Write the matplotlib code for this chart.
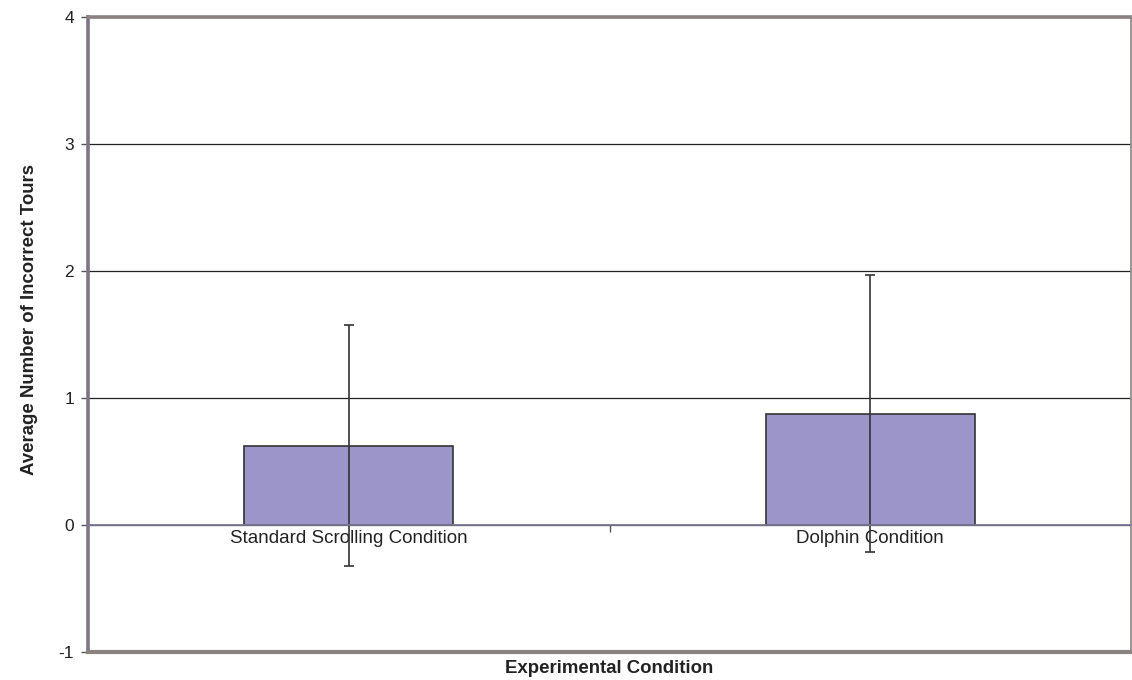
import matplotlib.pyplot as plt
from matplotlib.ticker import FixedLocator

# values
conditions = ["Standard Scrolling Condition", "Dolphin Condition"]
mean_incorrect = [0.625, 0.875]
err_incorrect = [0.95, 1.09]
y_ticks = [-1, 0, 1, 2, 3, 4]

plt.rcParams['font.family'] = ['Liberation Sans', 'DejaVu Sans']
plt.rcParams['axes.unicode_minus'] = False

frame_col = "#8c8282"
fig = plt.figure(figsize=(11.32, 6.8), dpi=100)
ax = fig.add_axes([88 / 1132, 28 / 680, 1043 / 1132, 635 / 680])

x = list(range(len(conditions)))
ax.bar(x, mean_incorrect, width=0.4, color="#9b95c9", edgecolor="#333333",
       linewidth=1.2, zorder=3)
ax.errorbar(x, mean_incorrect, yerr=err_incorrect, fmt="none", ecolor="#333333",
            elinewidth=1.2, capsize=3.5, capthick=1.2, zorder=4)

ax.set_xlim(-0.5, len(conditions) - 0.5)
ax.set_ylim(y_ticks[0], y_ticks[-1])
ax.set_yticks(y_ticks)
ax.yaxis.grid(True, color="#222222", linewidth=0.9, zorder=0)

# category axis crosses at zero
ax.spines['bottom'].set_position(('data', 0))
ax.spines['bottom'].set_color("#7a7894")
ax.spines['bottom'].set_linewidth(1.3)
ax.spines['bottom'].set_zorder(5)
ax.set_xticks(x)
ax.set_xticklabels(conditions, fontsize=13.5, color="#222222")
ax.tick_params(axis='x', which='major', length=0, pad=3.5)
ax.xaxis.set_minor_locator(FixedLocator([0.5]))
ax.tick_params(axis='x', which='minor', length=5, width=1, color="#555555")

# plot area border
ax.axhline(y_ticks[0], color=frame_col, linewidth=3, clip_on=False, zorder=6)
for side in ['left', 'top']:
    ax.spines[side].set_color(frame_col)
    ax.spines[side].set_linewidth(2.6)
ax.spines['left'].set_color("#7d7488")
ax.spines['right'].set_color(frame_col)
ax.spines['right'].set_linewidth(1.2)

ax.tick_params(axis='y', length=5, width=1, color="#555555", labelsize=12.5,
               labelcolor="#222222", pad=5)

ax.set_ylabel("Average Number of Incorrect Tours", fontsize=13.4, fontweight='bold',
              color="#222222")
ax.yaxis.set_label_coords(-0.048, 0.523)
ax.set_xlabel("Experimental Condition", fontsize=13.4, fontweight='bold', color="#222222")
ax.xaxis.set_label_coords(0.5, -0.013)

fig.savefig("out.png", dpi=100)
